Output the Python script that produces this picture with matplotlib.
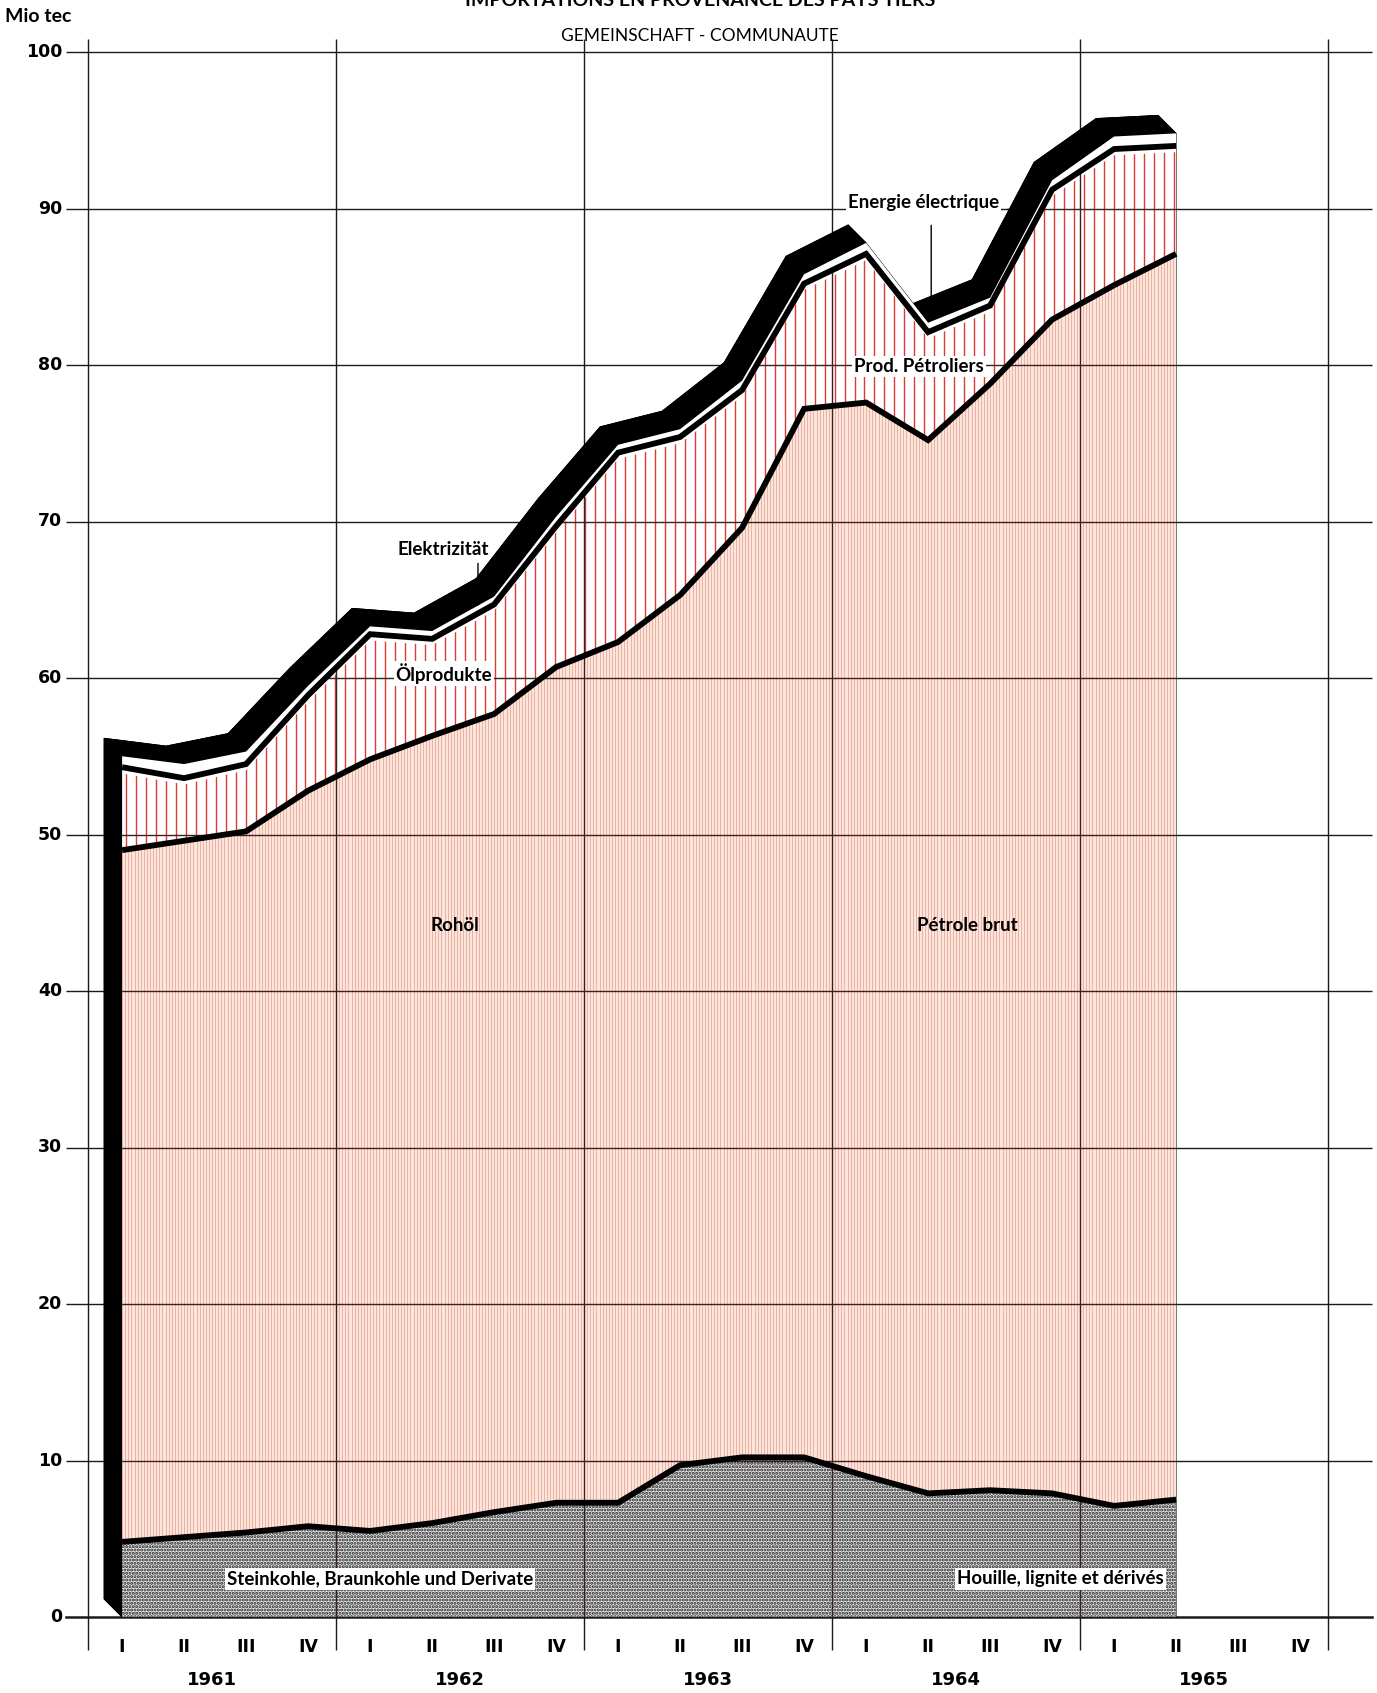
import numpy as np
import matplotlib
matplotlib.use('Agg')
import matplotlib.pyplot as plt
from matplotlib.patches import Polygon
from matplotlib.collections import LineCollection

# ---------------- data (Mio tec, quarterly 1961 I .. 1965 II) ----------------
quarter_labels = ['I', 'II', 'III', 'IV'] * 5
year_labels = ['1961', '1962', '1963', '1964', '1965']
coal = [4.8, 5.1, 5.4, 5.8, 5.5, 6.0, 6.7, 7.3, 7.3, 9.7, 10.2, 10.2, 9.0, 7.9, 8.1, 7.9, 7.1, 7.5]
crude = [44.2, 44.5, 44.8, 47.0, 49.3, 50.3, 51.0, 53.4, 55.0, 55.6, 59.4, 67.0, 68.6, 67.3, 70.7, 75.0, 78.0, 79.6]
products = [5.3, 4.0, 4.3, 6.1, 8.0, 6.2, 7.0, 9.0, 12.1, 10.1, 8.8, 8.0, 9.5, 6.9, 5.0, 8.3, 8.7, 6.9]
electricity = [0.7, 0.9, 0.8, 0.6, 0.5, 0.5, 0.5, 0.6, 0.5, 0.5, 0.6, 0.6, 0.7, 0.6, 0.5, 0.6, 0.8, 0.8]
y_ticks = [0, 10, 20, 30, 40, 50, 60, 70, 80, 90, 100]

plt.rcParams['hatch.linewidth'] = 1.5

W, H = 1377, 1693
fig = plt.figure(figsize=(W / 100, H / 100), dpi=100)
fig.patch.set_facecolor('white')

# axes geometry in pixels
ax_l, ax_r, ax_t, ax_b = 66, 1372, 52, 1617
ax = fig.add_axes([ax_l / W, 1 - ax_b / H, (ax_r - ax_l) / W, (ax_b - ax_t) / H])
px_q = 62.0      # pixels per quarter
x_origin = 88.0  # pixel of start of 1961
ax.set_xlim((ax_l - x_origin) / px_q, (ax_r - x_origin) / px_q)
ax.set_ylim(0, 100)
ax.set_axis_off()

n = len(coal)
x = np.arange(n) + 0.55
c1 = np.array(coal)
c2 = c1 + np.array(crude)
c3 = c2 + np.array(products)
c4 = c3 + np.array(electricity)

def band_poly(lower, upper):
    verts = np.concatenate([np.column_stack([x, lower]), np.column_stack([x[::-1], upper[::-1]])])
    return Polygon(verts, closed=True, transform=ax.transData)

# ---------------- gridlines (under shadow) ----------------
x0, x1 = ax.get_xlim()
segs = [[(x0, y), (x1, y)] for y in y_ticks[1:]]
segs += [[(4 * k, -2.1), (4 * k, 100.8)] for k in range(6)]
grid_under = LineCollection(segs, colors='#1a1a1a', linewidths=1.0, zorder=0.5, clip_on=False)
ax.add_collection(grid_under)
ax.plot([x0, x1], [0, 0], color='#1a1a1a', lw=1.8, zorder=0.6, clip_on=False)

# ---------------- 3-D shadow (extrusion of the total outline) ----------------
dv = np.array([-0.29, 1.15])
outline = [(x[0], 0.0)] + list(zip(x, c4)) + [(x[-1], 0.0)]
outline = np.array(outline)
ax.add_patch(Polygon(outline + dv, closed=True, facecolor='black', edgecolor='black', lw=0.6, zorder=1))
for i in range(len(outline)):
    p = outline[i]
    q = outline[(i + 1) % len(outline)]
    ax.add_patch(Polygon([p, q, q + dv, p + dv], closed=True, facecolor='black',
                         edgecolor='black', lw=0.6, zorder=1))

# ---------------- fills ----------------
zero = np.zeros(n)
ax.fill_between(x, zero, c1, facecolor='#e6e6e6', edgecolor='#222222', hatch='.....', lw=0, zorder=2)
ax.fill_between(x, c1, c2, facecolor='#fbe6de', lw=0, zorder=2)
ax.fill_between(x, c2, c3, facecolor='white', lw=0, zorder=2)
ax.fill_between(x, c3, c4, facecolor='white', lw=0, zorder=2)

# fine red verticals in crude oil band
crude_clip = band_poly(c1, c2)
xs_fine = np.arange(x[0], x[-1], 0.05)
vl1 = ax.vlines(xs_fine, 0, 100, colors='#eca191', linewidths=0.55, zorder=2.3)
vl1.set_clip_path(crude_clip)
# sparse red verticals in oil products band
prod_clip = band_poly(c2, c3 - 0.4)
xs_sp = np.arange(x[0] + 0.06, x[-1], 0.161)
vl2 = ax.vlines(xs_sp, 0, 100, colors='#dd3b32', linewidths=1.0, zorder=2.3)
vl2.set_clip_path(prod_clip)

# gridlines visible through the chart body
body_clip = band_poly(zero, c3)
grid_over = LineCollection(segs, colors='#3a2020', linewidths=1.0, zorder=2.6)
ax.add_collection(grid_over)
grid_over.set_clip_path(body_clip)

# boundary lines
for top in (c1, c2, c3):
    ax.plot(x, top, color='black', lw=4.2, zorder=4, solid_joinstyle='miter', solid_capstyle='butt')

# ---------------- axis texts ----------------
num_font = ['Liberation Sans Narrow', 'DejaVu Sans']
lab_font = ['Lato', 'DejaVu Sans']
for v in y_ticks:
    ax.text(-0.42, v, str(v), ha='right', va='center', fontsize=12.5, fontweight='bold',
            family=num_font, clip_on=False)
for i, ql in enumerate(quarter_labels):
    ax.text(i + 0.55, -1.92, ql, ha='center', va='center', fontsize=12.5, fontweight='bold',
            family=num_font, clip_on=False)
for k, yl in enumerate(year_labels):
    ax.text(4 * k + 2, -4.03, yl, ha='center', va='center', fontsize=13, fontweight='bold',
            family=num_font, clip_on=False)

fig.text(5 / W, 1 - 16 / H, 'Mio tec', ha='left', va='center', fontsize=14, fontweight='bold', family=lab_font)
fig.text(700 / W, 1 - 36 / H, 'GEMEINSCHAFT - COMMUNAUTE', ha='center', va='center', fontsize=12.5,
         family=lab_font)
fig.text(700 / W, 1 - 6 / H, 'IMPORTATIONS EN PROVENANCE DES PAYS TIERS', ha='center', va='baseline',
         fontsize=14, fontweight='bold', family=lab_font)

# ---------------- series labels ----------------
wb = dict(facecolor='white', edgecolor='none', pad=1.5)
lab_kw = dict(ha='center', va='center', fontsize=13.5, fontweight='bold', family=lab_font, zorder=6)
ax.text(5.73, 68.2, 'Elektrizität', **lab_kw)
ax.annotate('', xy=(6.29, 64.4), xytext=(6.29, 67.5),
            arrowprops=dict(arrowstyle='-|>', color='black', lw=1.0, mutation_scale=7), zorder=6)
ax.text(5.74, 60.3, 'Ölprodukte', bbox=wb, **lab_kw)
ax.text(5.92, 44.2, 'Rohöl', **lab_kw)
ax.text(14.18, 44.2, 'Pétrole brut', **lab_kw)
ax.text(13.40, 79.9, 'Prod. Pétroliers', bbox=wb, **lab_kw)
ax.text(13.47, 90.4, 'Energie électrique', bbox=wb, **lab_kw)
ax.plot([14.82, 14.98], [90.0, 90.0], color='black', lw=1.0, zorder=5)
ax.annotate('', xy=(13.6, 83.0), xytext=(13.6, 89.1),
            arrowprops=dict(arrowstyle='-|>', color='black', lw=1.0, mutation_scale=7), zorder=6)
ax.text(4.71, 2.43, 'Steinkohle, Braunkohle und Derivate', bbox=wb, **lab_kw)
ax.text(15.68, 2.43, 'Houille, lignite et dérivés', bbox=wb, **lab_kw)

fig.savefig('out.png', dpi=100)
